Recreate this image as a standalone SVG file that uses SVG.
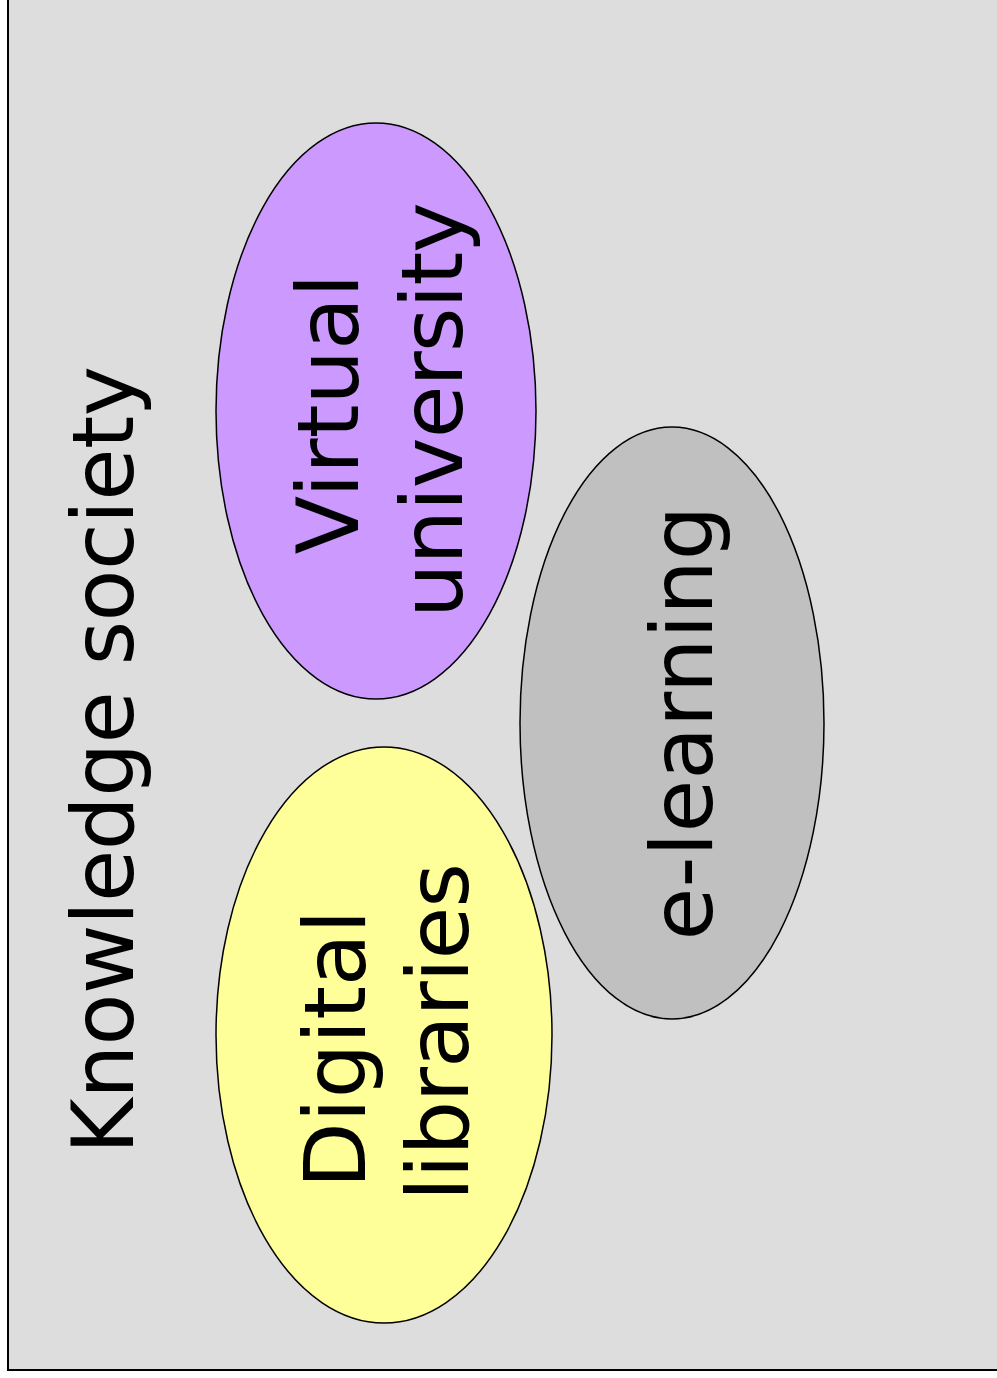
<svg xmlns="http://www.w3.org/2000/svg" width="997" height="1378" viewBox="0 0 997 1378">
<style>
.lbl{font-family:"DejaVu Sans","Liberation Sans",sans-serif;font-size:86px;fill:#000;text-anchor:middle}
.node{stroke:#000;stroke-width:1.5}
</style>
<rect x="0" y="0" width="997" height="1378" fill="#ffffff"/>
<rect id="frame" x="8" y="-10" width="1000" height="1380" fill="#dddddd" stroke="#000" stroke-width="2"/>
<g id="title">
<text class="lbl" style="font-size:85px" transform="translate(133,760) rotate(-90)" textLength="788">Knowledge society</text>
</g>
<g id="virtual-university">
<ellipse class="node" cx="376" cy="411" rx="160" ry="288" fill="#cc99ff"/>
<text class="lbl" transform="translate(358,414) rotate(-90)">Virtual</text>
<text class="lbl" transform="translate(462,410) rotate(-90)" textLength="416">university</text>
</g>
<g id="e-learning">
<ellipse class="node" cx="672" cy="723" rx="152" ry="296" fill="#c0c0c0"/>
<text class="lbl" transform="translate(712,723) rotate(-90)">e-learning</text>
</g>
<g id="digital-libraries">
<ellipse class="node" cx="384" cy="1035" rx="168" ry="288" fill="#ffff99"/>
<text class="lbl" transform="translate(365,1049) rotate(-90)">Digital</text>
<text class="lbl" transform="translate(468,1032) rotate(-90)" textLength="338">libraries</text>
</g>
<g id="connectors"></g>
</svg>
